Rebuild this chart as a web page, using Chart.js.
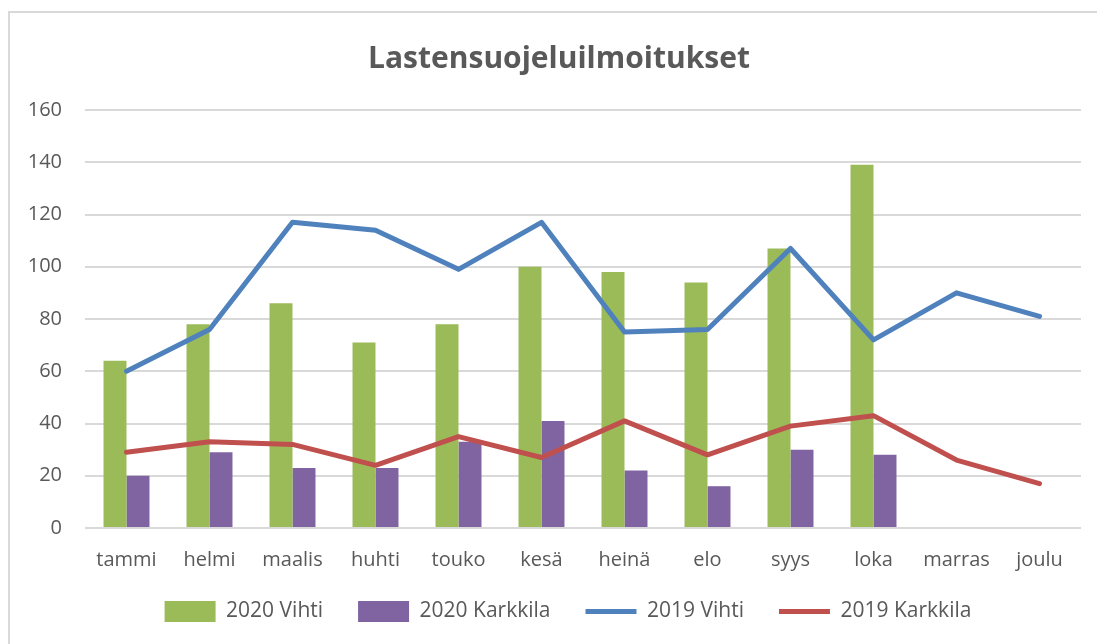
<!DOCTYPE html>
<html>
<head>
<meta charset="utf-8">
<script src="https://cdn.jsdelivr.net/npm/chart.js@4"></script>
<style>
  html, body { margin: 0; padding: 0; background: #fff; }
  #wrap { position: relative; width: 1097px; height: 644px; overflow: hidden; }
  #frame { position: absolute; left: 8px; top: 11px; width: 1200px; height: 700px; border: 2px solid #d9d9d9; }
  canvas { position: absolute; left: 0; top: 0; }
</style>
</head>
<body>
<div id="wrap">
  <div id="frame"></div>
  <canvas id="chart" width="1097" height="644"></canvas>
</div>
<script>
// kuukaudet
const months = ['tammi', 'helmi', 'maalis', 'huhti', 'touko', 'kesä', 'heinä', 'elo', 'syys', 'loka', 'marras', 'joulu'];

// sarjat (luettu kuvasta)
const vihti2020 = [64, 78, 86, 71, 78, 100, 98, 94, 107, 139, null, null];
const karkkila2020 = [20, 29, 23, 23, 33, 41, 22, 16, 30, 28, null, null];
const vihti2019 = [60, 76, 117, 114, 99, 117, 75, 76, 107, 72, 90, 81];
const karkkila2019 = [29, 33, 32, 24, 35, 27, 41, 28, 39, 43, 26, 17];

const yTicks = [0, 20, 40, 60, 80, 100, 120, 140, 160];

const textColor = '#595959';
const gridColor = '#d9d9d9';
const font = "'Open Sans', sans-serif";

const lineStyle = {
    borderWidth: 5,
    pointRadius: 0,
    pointStyle: 'line',
    borderCapStyle: 'round',
    borderJoinStyle: 'round',
    tension: 0,
    order: 0
};

// selite hieman ylemmäs ja oikealle (pystyväli pienempi kuin vaakaväli)
const legendShift = {
    id: 'legendShift',
    afterLayout(chart) {
        const lg = chart.legend;
        lg.top -= 18;
        lg.bottom = chart.height;
        lg.height = lg.bottom - lg.top;
        lg.left += 9;
        lg.right += 9;
    }
};

new Chart(document.getElementById('chart'), {
    data: {
        labels: months,
        datasets: [
            {
                type: 'bar',
                label: '2020 Vihti',
                data: vihti2020,
                backgroundColor: '#9bbb59',
                pointStyle: 'rect',
                order: 1
            },
            {
                type: 'bar',
                label: '2020 Karkkila',
                data: karkkila2020,
                backgroundColor: '#8064a2',
                pointStyle: 'rect',
                order: 1
            },
            Object.assign({
                type: 'line',
                label: '2019 Vihti',
                data: vihti2019,
                borderColor: '#4f81bd',
                backgroundColor: '#4f81bd'
            }, lineStyle),
            Object.assign({
                type: 'line',
                label: '2019 Karkkila',
                data: karkkila2019,
                borderColor: '#c0504d',
                backgroundColor: '#c0504d'
            }, lineStyle)
        ]
    },
    plugins: [legendShift],
    options: {
        responsive: false,
        animation: false,
        layout: {
            // vasen reuna 37 -> otsikko keskittyy kehyksen mukaan
            padding: { left: 37, right: 16, top: 0, bottom: 11 }
        },
        datasets: {
            bar: { categoryPercentage: 0.554, barPercentage: 1 }
        },
        scales: {
            x: {
                grid: { display: false },
                border: { display: false },
                ticks: {
                    color: textColor,
                    font: { family: font, size: 20 },
                    padding: 12,
                    maxRotation: 0
                }
            },
            y: {
                min: 0,
                max: 160,
                afterFit: (scale) => {
                    scale.width = 48;
                    // ei leikata tick-tekstejä akselin laatikkoon
                    scale._computeLabelArea = () => undefined;
                },
                afterBuildTicks: (scale) => { scale.ticks = yTicks.map(v => ({ value: v })); },
                border: { display: false },
                grid: { color: gridColor, lineWidth: 2, drawTicks: false },
                ticks: {
                    color: textColor,
                    font: { family: font, size: 20 },
                    padding: 23
                }
            }
        },
        plugins: {
            title: {
                display: true,
                text: 'Lastensuojeluilmoitukset',
                color: textColor,
                font: { family: font, size: 30, weight: 'bold' },
                padding: { top: 41, bottom: 33 }
            },
            legend: {
                position: 'bottom',
                maxHeight: 49,
                labels: {
                    color: textColor,
                    font: { family: font, size: 21 },
                    usePointStyle: true,
                    pointStyleWidth: 51,
                    boxHeight: 21,
                    padding: 35,
                    sort: (a, b) => a.datasetIndex - b.datasetIndex
                }
            },
            tooltip: { enabled: false }
        }
    }
});
</script>
</body>
</html>
